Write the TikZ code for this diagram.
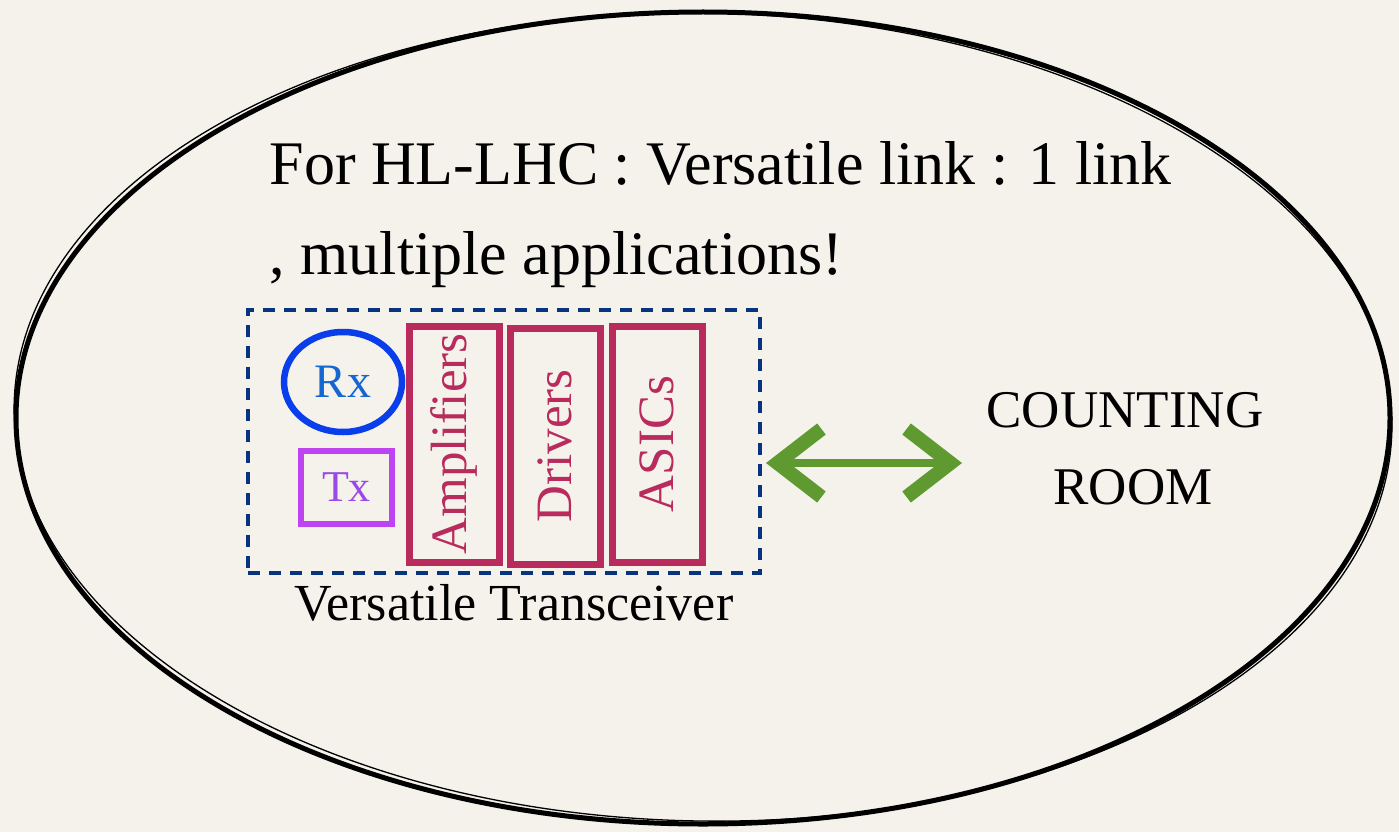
\documentclass[tikz,border=0pt]{standalone}
\usepackage{fontspec}
\setmainfont{Liberation Serif}
\usetikzlibrary{arrows.meta,shapes.geometric}
\definecolor{bg}{HTML}{F5F2EC}
\definecolor{navy}{HTML}{08337E}
\definecolor{rxblue}{HTML}{0A3EEA}
\definecolor{rxtext}{HTML}{1466D2}
\definecolor{txpurp}{HTML}{C043F2}
\definecolor{txtext}{HTML}{9A48E8}
\definecolor{crim}{HTML}{B82B5C}
\definecolor{grn}{HTML}{5E9A30}
\tikzset{
  vbox/.style={draw=crim, line width=7pt, minimum width=90pt, minimum height=236pt, inner sep=0pt},
  vlabel/.style={text=crim, font=\fontsize{51}{52}\selectfont, rotate=90},
  blk/.style={font=\fontsize{#1}{#1}\selectfont, text=black},
  gbarb/.tip={Straight Barb[length=44pt, width=68pt, line width=14pt]},
}
\begin{document}
\begin{tikzpicture}[x=1pt,y=-1pt]
\useasboundingbox (0,0) rectangle (1399,832);
\fill[bg] (0,0) rectangle (1399,832);
% outer ellipse
\draw[black, line width=5pt] (703,418) ellipse [x radius=687, y radius=406];
\draw[black, line width=1.3pt, rotate around={-1:(703,418)}] (703,417) ellipse [x radius=689, y radius=404];
% title
\node[blk=62, anchor=base west] (t1) at (266,184) {For HL-LHC : Versatile link : 1 link};
\node[blk=62, anchor=base west] (t2) at (266,274) {, multiple applications!};
% dashed container
\node[draw=navy, line width=4pt, dash pattern=on 12pt off 9pt, minimum width=512pt, minimum height=263pt, inner sep=0pt] (vt) at (504,441.5) {};
\node[blk=52, anchor=base] (vtl) at (514,620) {Versatile Transceiver};
% Rx
\node[draw=rxblue, line width=6.5pt, ellipse, minimum width=118pt, minimum height=100pt, inner sep=0pt, text=rxtext, font=\fontsize{48}{48}\selectfont] (rx) at (343,382) {Rx};
% Tx
\node[draw=txpurp, line width=6.5pt, minimum width=91pt, minimum height=73pt, inner sep=0pt, text=txtext, font=\fontsize{44}{44}\selectfont] (tx) at (346.5,487.5) {Tx};
% vertical boxes
\node[vbox] (amp) at (454,444) {};
\node[vlabel] at (amp.center) {Amplifiers};
\node[vbox] (drv) at (555,446) {};
\node[vlabel] at (drv.center) {Drivers};
\node[vbox] (asi) at (657,444) {};
\node[vlabel] at (asi.center) {ASICs};
% counting room
\node[blk=53, anchor=base] (cr1) at (1125,427) {COUNTING};
\node[blk=53, anchor=base] (cr2) at (1133,504) {ROOM};
% arrow
\coordinate (a1) at (766,463);
\coordinate (a2) at (962,463);
\draw[grn, line width=8pt, gbarb-gbarb] (a1) -- (a2);
\end{tikzpicture}
\end{document}
